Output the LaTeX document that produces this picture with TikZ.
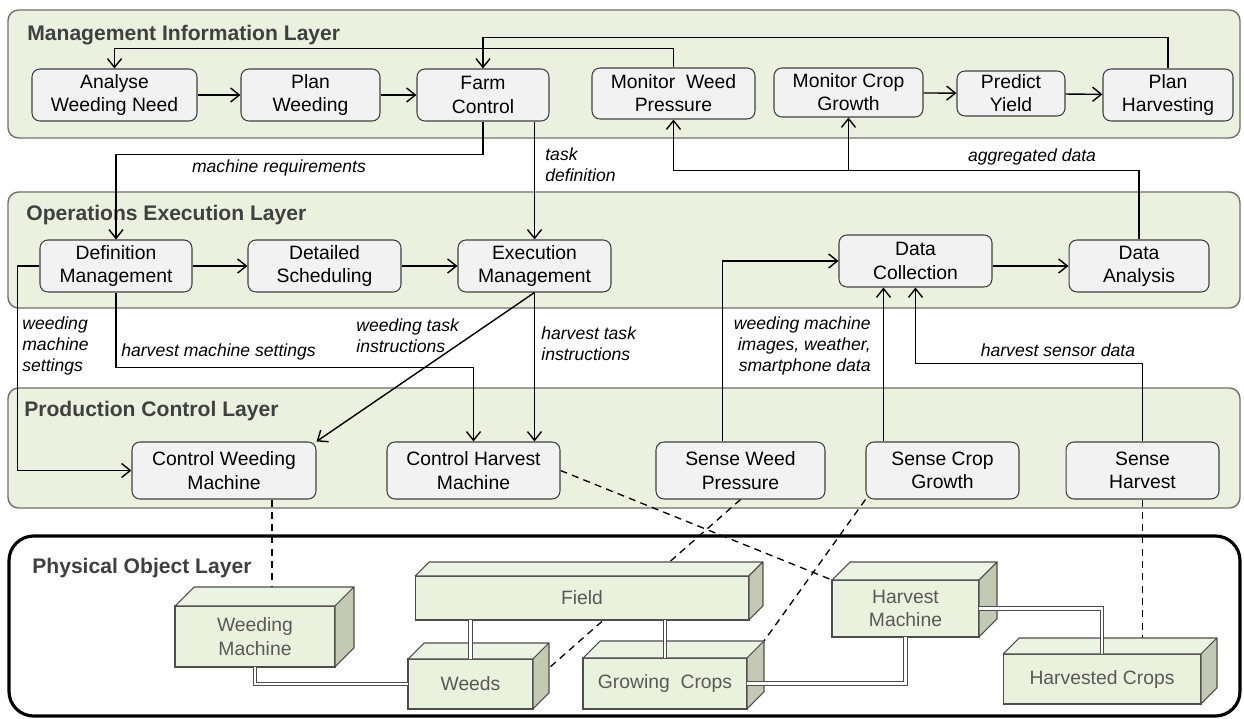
\documentclass[tikz,border=0pt]{standalone}
\usepackage{fontspec}
\setmainfont{Liberation Sans}
\usetikzlibrary{arrows.meta,calc}

\definecolor{layergreen}{HTML}{EBF1DE}
\definecolor{layerline}{HTML}{6F6F6F}
\definecolor{boxfill}{HTML}{F2F2F2}
\definecolor{boxline}{HTML}{404040}
\definecolor{titlegray}{HTML}{404040}
\definecolor{cubefrontcol}{HTML}{EAF1DD}
\definecolor{cubetopcol}{HTML}{EDF3E3}
\definecolor{cubesidecol}{HTML}{C3C9B3}
\definecolor{cubeline}{HTML}{4D4D4D}
\definecolor{cubetext}{HTML}{595959}

\pgfdeclarelayer{background}
\pgfdeclarelayer{links}
\pgfsetlayers{background,links,main}

\begin{document}
\begin{tikzpicture}[
  x=0.02cm, y=-0.02cm,
  >={Straight Barb[length=5pt,width=8pt]},
  layerbox/.style={draw=layerline, fill=layergreen, line width=0.8pt, rounded corners=6pt},
  physbox/.style={draw=black, fill=white, line width=1.8pt, rounded corners=14pt},
  layertitle/.style={anchor=base west, text=titlegray, font=\fontsize{12}{14}\selectfont\bfseries, inner sep=0pt},
  proc/.style={rectangle, draw=boxline, fill=boxfill, line width=0.6pt, rounded corners=4.5pt, align=center, inner sep=1pt, minimum height=1.04cm, font=\fontsize{11}{13.2}\selectfont},
  cube/.style={rectangle, draw=cubeline, fill=cubefrontcol, text=cubetext, line width=0.6pt, align=center, inner sep=1pt, outer sep=0pt, font=\fontsize{11}{13.2}\selectfont},
  topface/.style={draw=cubeline, fill=cubetopcol, line width=0.6pt, line join=round},
  sideface/.style={draw=cubeline, fill=cubesidecol, line width=0.6pt, line join=round},
  note/.style={font=\fontsize{10}{12}\selectfont\itshape, align=left, inner sep=0pt},
  flow/.style={draw, ->, line width=0.8pt},
  link/.style={draw, line width=0.75pt, dash pattern=on 4pt off 3pt},
  tie/.style={draw=cubeline, line width=0.7pt, double=white, double distance=1.3pt}
]
\useasboundingbox (0,0) rectangle (1244,719);

% layers
\begin{pgfonlayer}{background}
\draw[layerbox] (8,10) rectangle (1240,138);
\draw[layerbox] (8,192) rectangle (1240,308);
\draw[layerbox] (8,388) rectangle (1240,508);
\draw[physbox] (9,536) rectangle (1240,716);
\end{pgfonlayer}

\node[layertitle] (miltitle) at (27,41) {Management Information Layer};
\node[layertitle] (oeltitle) at (26,221) {Operations Execution Layer};
\node[layertitle] (pcltitle) at (24,417) {Production Control Layer};
\node[layertitle] (poltitle) at (32,573) {Physical Object Layer};

% management information layer
\node[proc, minimum width=3.30cm] (anw) at (114.5,95) {Analyse\\Weeding Need};
\node[proc, minimum width=2.78cm] (pw) at (310.5,95) {Plan\\Weeding};
\node[proc, minimum width=2.64cm] (fc) at (483,95) {Farm\\Control};
\node[proc, minimum width=3.26cm, minimum height=1.02cm] (mwp) at (673.5,93.5) {Monitor~ Weed\\Pressure};
\node[proc, minimum width=2.98cm, minimum height=0.98cm] (mcg) at (848.5,92.5) {Monitor Crop\\Growth};
\node[proc, minimum width=2.16cm, minimum height=0.90cm] (py) at (1011,93.5) {Predict\\Yield};
\node[proc, minimum width=2.60cm] (ph) at (1168,95) {Plan\\Harvesting};

% operations execution layer
\node[proc, minimum width=3.04cm] (dm) at (116,266) {Definition\\Management};
\node[proc, minimum width=3.06cm] (ds) at (324.5,266) {Detailed\\Scheduling};
\node[proc, minimum width=3.06cm] (em) at (534.5,266) {Execution\\Management};
\node[proc, minimum width=3.06cm] (dc) at (915.5,261) {Data\\Collection};
\node[proc, minimum width=2.80cm] (da) at (1139,266) {Data\\Analysis};

% production control layer
\node[proc, minimum width=3.68cm, minimum height=1.14cm] (cwm) at (224,470.5) {Control Weeding\\Machine};
\node[proc, minimum width=3.46cm, minimum height=1.14cm] (chm) at (473.5,470.5) {Control Harvest\\Machine};
\node[proc, minimum width=3.38cm, minimum height=1.14cm] (swp) at (740.5,470.5) {Sense Weed\\Pressure};
\node[proc, minimum width=3.06cm, minimum height=1.14cm] (scg) at (942.5,470.5) {Sense Crop\\Growth};
\node[proc, minimum width=3.06cm, minimum height=1.14cm] (sh) at (1142.5,470.5) {Sense\\Harvest};

% physical object layer
\node[cube, minimum width=3.20cm, minimum height=1.22cm] (weedmach) at (255,636.5) {Weeding\\Machine};
\node[cube, minimum width=6.68cm, minimum height=0.88cm] (field) at (582,598) {Field};
\node[cube, minimum width=2.50cm, minimum height=1.00cm] (weeds) at (470.5,684) {Weeds};
\node[cube, minimum width=3.28cm, minimum height=1.02cm] (growing) at (665,683.5) {Growing~ Crops};
\node[cube, minimum width=2.94cm, minimum height=1.14cm] (harvmach) at (905.5,608.5) {Harvest\\Machine};
\node[cube, minimum width=3.96cm, minimum height=1.00cm] (harvested) at (1102,679) {Harvested Crops};

\foreach \n/\d in {weedmach/19, field/14, weeds/16, growing/17, harvmach/18, harvested/16}{
  \filldraw[topface] (\n.north west) -- ++(\d,-\d) -- ($(\n.north east)+(\d,-\d)$) -- (\n.north east) -- cycle;
  \filldraw[sideface] (\n.north east) -- ++(\d,-\d) -- ($(\n.south east)+(\d,-\d)$) -- (\n.south east) -- cycle;
  \coordinate (\n-top) at ($(\n.north)+(\d,-\d)$);
  \coordinate (\n-ne) at ($(\n.north east)+(\d,-\d)$);
  \coordinate (\n-e) at ($(\n.east)+(\d,-\d)$);
}

\path[tie] (weedmach.south) |- (weeds.west);
\path[tie] (weeds.north) -- (weeds.north |- field.south);
\path[tie] (growing.north) -- (growing.north |- field.south);
\path[tie] (growing.east) -| (harvmach.south);
\path[tie] (harvmach.east) -| (harvested.north);

% dashed links to physical objects
\begin{pgfonlayer}{links}
\coordinate (cwmout) at ($(cwm.south)+(48,0)$);
\path[link] (cwmout) -- (cwmout |- weedmach-top);
\path[link] (chm.east) -- (harvmach.north west);
\path[link] (swp.south) -- (weeds-e);
\path[link] (scg.south west) -- (growing-ne);
\path[link] (sh.south) -- (sh.south |- harvested.north);
\end{pgfonlayer}

% flows
\path[flow] (anw) -- (pw);
\path[flow] (pw) -- (fc);
\path[flow] (mcg) -- (py);
\path[flow] (py) -- (ph);
\path[flow] (mwp.north) -- ++(0,-19) -| (anw.north);
\path[flow] (ph.north) -- ++(0,-31) -| (fc.north);
\path[flow] (fc.south) -- ++(0,33) -| (dm.north);
\path[flow] (em.north |- fc.south) -- (em.north);

\path[flow] (dm) -- (ds);
\path[flow] (ds) -- (em);
\path[flow] (dc.east |- da.west) -- (da.west);
\path[flow] (dm.west) -- ++(-22,0) |- (cwm.west);
\path[flow] (dm.south) -- ++(0,75) -| (chm.north);
\path[flow] (em.south) -- (cwm.north east);
\path[flow] (em.south) -- (em.south |- chm.north);

\path[flow] (da.north) -- ++(0,-69) coordinate (aggr) -| (mwp.south);
\path[flow] (mcg.south |- aggr) -- (mcg.south);
\coordinate (swpout) at ($(swp.north)+(-18,0)$);
\path[flow] (swpout) |- (dc.west);
\coordinate (dcin) at ($(dc.south)+(-32,0)$);
\path[flow] (dcin |- scg.north) -- (dcin);
\path[flow] (sh.north) -- ++(0,-78) -| (dc.south);

% connector labels
\node[note] (mreq) at (279,168) {machine requirements};
\node[note, anchor=west] (tdef) at (545,164.5) {task\\definition};
\node[note] (aggdata) at (1032,157) {aggregated data};
\node[note, anchor=west] (wmset) at (22,346) {weeding\\machine\\settings};
\node[note, anchor=west] (hmset) at (121,352) {harvest machine settings};
\node[note, anchor=west] (wtask) at (356,336) {weeding task\\instructions};
\node[note, anchor=west] (htask) at (541,344) {harvest task\\instructions};
\node[note, anchor=east, align=right] (wdata) at (871,346) {weeding machine\\images, weather,\\smartphone data};
\node[note] (hsens) at (1058,350) {harvest sensor data};

\end{tikzpicture}
\end{document}
